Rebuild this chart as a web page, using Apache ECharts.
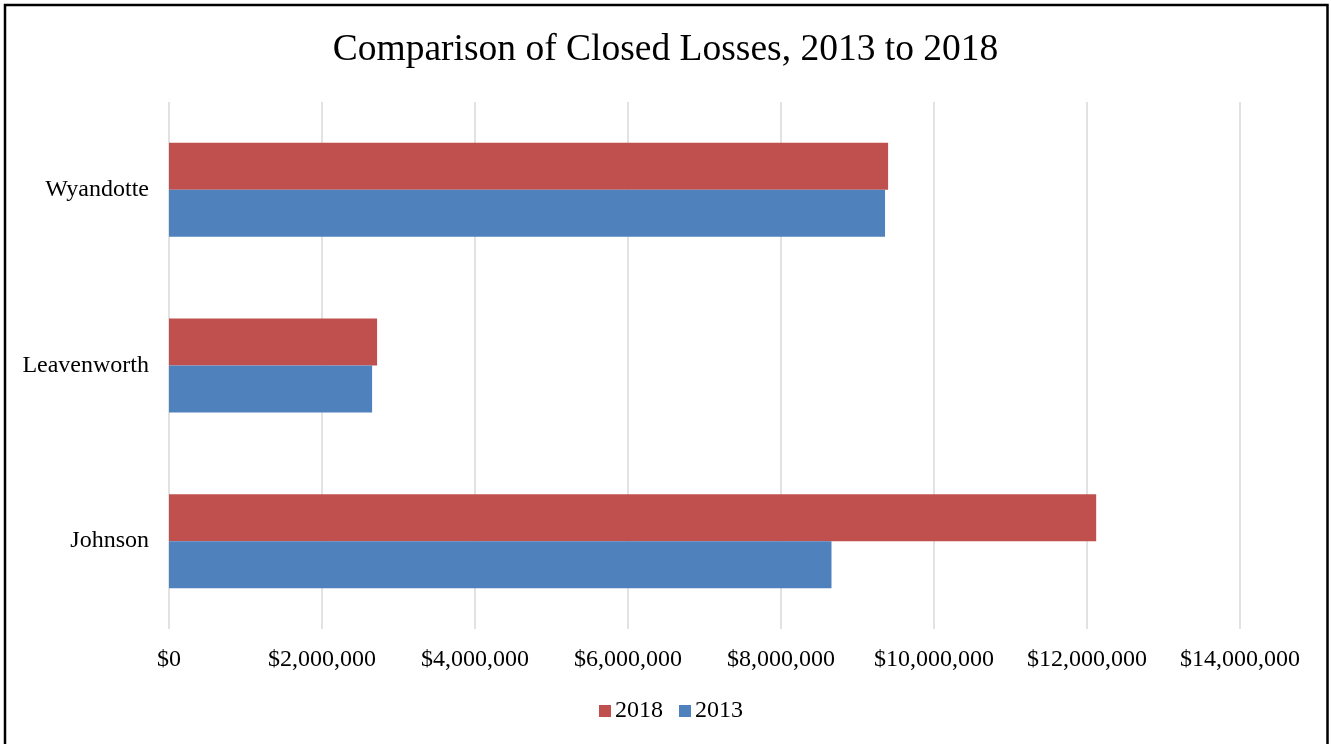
<!DOCTYPE html>
<html>
<head>
<meta charset="utf-8">
<script src="https://cdn.jsdelivr.net/npm/echarts@6/dist/echarts.min.js"></script>
<style>
html,body{margin:0;padding:0;background:#fff;}
#chart{width:1331px;height:744px;}
</style>
</head>
<body>
<div id="chart"></div>
<script>
const categories = ['Johnson', 'Leavenworth', 'Wyandotte'];
const values2018 = [12120000, 2720000, 9400000];
const values2013 = [8660000, 2655000, 9360000];
const seriesNames = ['2018', '2013'];
const titleText = 'Comparison of Closed Losses, 2013 to 2018';

const serif = '"Liberation Serif", "Times New Roman", serif';
const chart = echarts.init(document.getElementById('chart'), null, {renderer: 'canvas'});

function fmt(v) {
  return '$' + v.toString().replace(/\B(?=(\d{3})+(?!\d))/g, ',');
}

chart.setOption({
  backgroundColor: '#ffffff',
  animation: false,
  title: {
    text: titleText,
    left: 'center',
    top: 26,
    textStyle: {fontFamily: serif, fontSize: 37.5, fontWeight: 'normal', color: '#000'}
  },
  legend: {
    data: seriesNames,
    bottom: 16,
    left: 594,
    itemWidth: 12,
    itemHeight: 12,
    itemGap: 16,
    icon: 'rect',
    textStyle: {fontFamily: serif, fontSize: 24, color: '#000', padding: [0, 0, 0, -1]}
  },
  grid: {left: 169, right: 91, top: 102, bottom: 115, containLabel: false},
  xAxis: {
    type: 'value',
    min: 0,
    max: 14000000,
    interval: 2000000,
    axisLine: {show: false},
    axisTick: {show: false},
    splitLine: {show: true, lineStyle: {color: '#d9d9d9', width: 1.5}},
    axisLabel: {fontFamily: serif, fontSize: 24, color: '#000', margin: 19, formatter: fmt}
  },
  yAxis: {
    type: 'category',
    data: categories,
    axisLine: {show: false},
    axisTick: {show: false},
    axisLabel: {fontFamily: serif, fontSize: 24, color: '#000', margin: 20}
  },
  series: [
    {
      name: '2018',
      type: 'bar',
      data: values2018,
      itemStyle: {color: '#c0504d'},
      barGap: '0%',
      barCategoryGap: '46.5%'
    },
    {
      name: '2013',
      type: 'bar',
      data: values2013,
      itemStyle: {color: '#4f81bd'},
      barGap: '0%',
      barCategoryGap: '46.5%'
    }
  ],
  graphic: [{
    type: 'polyline',
    shape: {points: [[5, 744], [5, 5], [1327.5, 5], [1327.5, 744]]},
    style: {stroke: '#000', lineWidth: 2.5, fill: null},
    silent: true
  }]
});
</script>
</body>
</html>
